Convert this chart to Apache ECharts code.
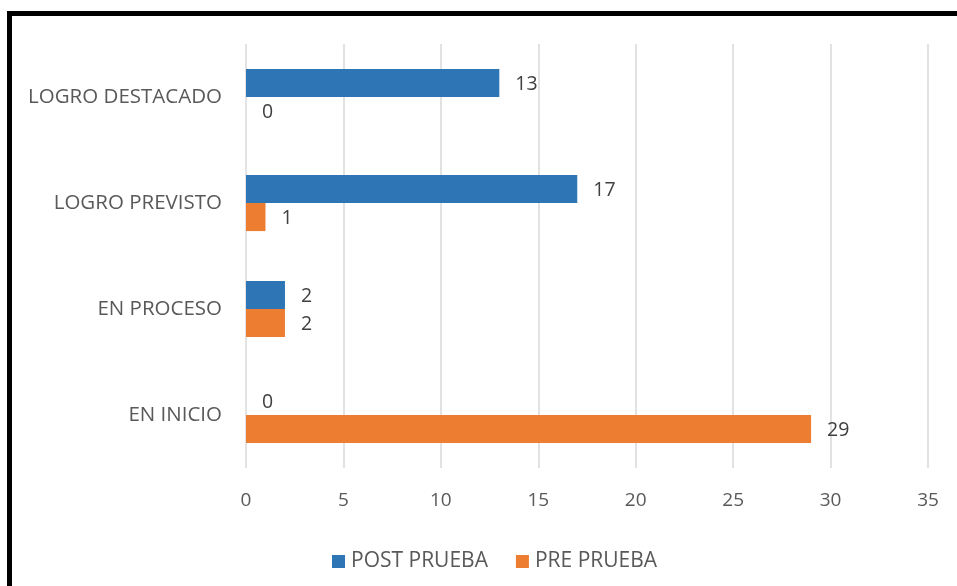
<!DOCTYPE html>
<html><head><meta charset="utf-8">
<script src="https://cdn.jsdelivr.net/npm/echarts@6/dist/echarts.min.js"></script>
<style>
html,body{margin:0;padding:0;width:957px;height:586px;overflow:hidden;background:#fff;}
#frame{position:absolute;left:7px;top:11px;width:1000px;height:700px;border:5.5px solid #000;box-sizing:border-box;}
#chart{position:absolute;left:0;top:0;width:957px;height:586px;}
</style></head>
<body>
<div id="frame"></div>
<div id="chart"></div>
<script>
const categories = ['EN INICIO', 'EN PROCESO', 'LOGRO PREVISTO', 'LOGRO DESTACADO'];
const postPrueba = [0, 2, 17, 13];
const prePrueba = [29, 2, 1, 0];
const seriesNames = ['POST PRUEBA', 'PRE PRUEBA'];
const xTicks = [0, 5, 10, 15, 20, 25, 30, 35];

const FONT = 'Open Sans';
const TXT = '#595959';
const chart = echarts.init(document.getElementById('chart'), null, {renderer: 'canvas'});
const lbl = {show: true, position: 'right', distance: 16, offset: [0, 1], color: '#404040', fontSize: 19.5, fontFamily: FONT};
chart.setOption({
  animation: false,
  grid: {left: 246, right: 29, top: 44, bottom: 118, containLabel: false},
  legend: {
    data: seriesNames, top: 546, left: 327, itemWidth: 13, itemHeight: 13, itemGap: 28,
    icon: 'rect', textStyle: {color: TXT, fontSize: 21, fontFamily: FONT, padding: [0, 0, 0, 1]}
  },
  xAxis: {
    type: 'value', min: xTicks[0], max: xTicks[xTicks.length - 1], interval: 5,
    axisLine: {show: false}, axisTick: {show: false},
    splitLine: {lineStyle: {color: '#d9d9d9', width: 1.5}},
    axisLabel: {color: TXT, fontSize: 19, fontFamily: FONT, margin: 23}
  },
  yAxis: {
    type: 'category', data: categories,
    axisLine: {show: false}, axisTick: {show: false},
    axisLabel: {color: TXT, fontSize: 20.5, fontFamily: FONT, margin: 24}
  },
  series: [
    {name: seriesNames[0], type: 'bar', data: postPrueba, itemStyle: {color: '#2E75B6'},
     barGap: '0%', barCategoryGap: '47%', label: lbl},
    {name: seriesNames[1], type: 'bar', data: prePrueba, itemStyle: {color: '#ED7D31'},
     barGap: '0%', barCategoryGap: '47%', label: lbl}
  ]
});
</script>
</body></html>
